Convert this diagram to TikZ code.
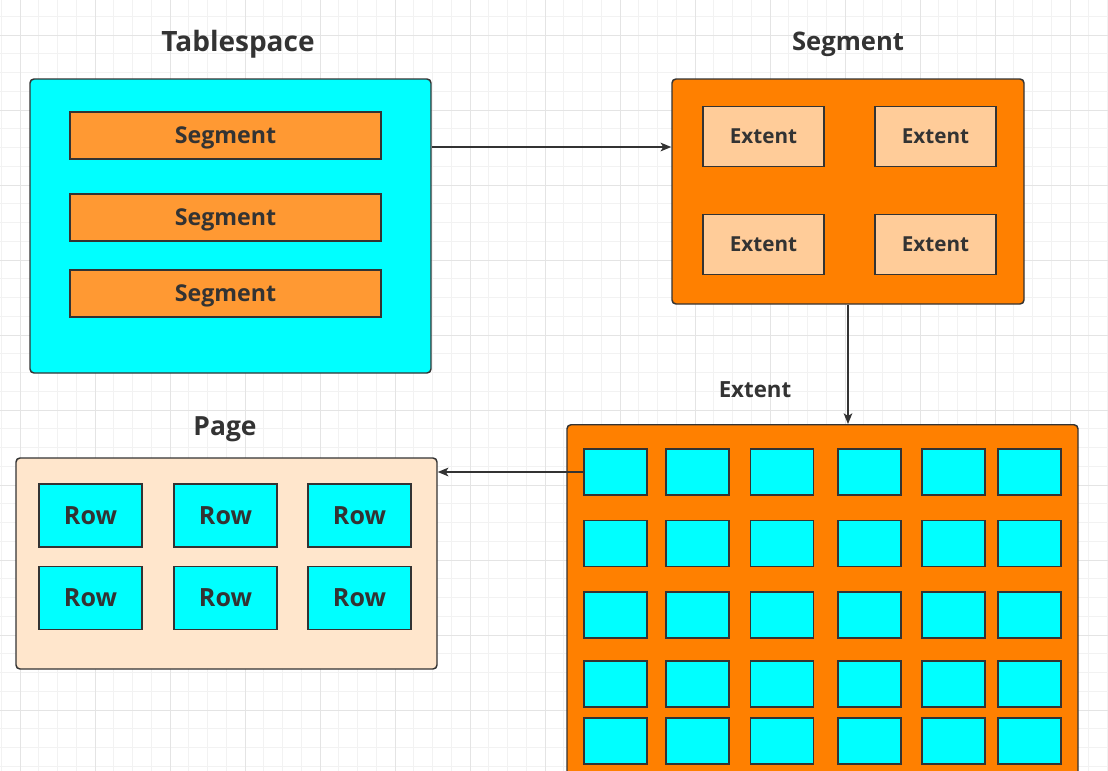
\documentclass[tikz,border=0pt]{standalone}
\usepackage{fontspec}
\setmainfont{Open Sans}
\usetikzlibrary{arrows.meta}
\definecolor{cyanfill}{HTML}{00FFFF}
\definecolor{segfill}{HTML}{FF9933}
\definecolor{bigorange}{HTML}{FF8000}
\definecolor{extfill}{HTML}{FFCC99}
\definecolor{pagefill}{HTML}{FFE6CC}
\definecolor{ink}{HTML}{333333}
\definecolor{gridminor}{HTML}{F2F2F2}
\definecolor{gridmajor}{HTML}{E4E4E4}
\begin{document}
\begin{tikzpicture}[x=0.75pt,y=-0.75pt,
  outerbox/.style={draw=ink,line width=1.1pt,rounded corners=3pt,inner sep=0pt},
  innerbox/.style={draw=ink,line width=1.1pt,inner sep=0pt,text=ink,font=\bfseries},
  title/.style={text=ink,font=\bfseries,inner sep=0pt,text depth=0pt},
  conn/.style={draw=ink,line width=1.1pt,-{Stealth[length=8pt,width=6.5pt,inset=2pt]}}]
\useasboundingbox (0,0) rectangle (1108,771);
\clip (0,0) rectangle (1108,771);
\fill[white] (0,0) rectangle (1108,771);
\foreach \k in {0,...,59} \draw[gridminor,line width=0.6pt] ({1.25+18.75*\k},0) -- ({1.25+18.75*\k},771);
\foreach \k in {0,...,40} \draw[gridminor,line width=0.6pt] (0,{16.25+18.75*\k}) -- (1108,{16.25+18.75*\k});
\foreach \k in {0,...,14} \draw[gridmajor,line width=0.6pt] ({20+75*\k},0) -- ({20+75*\k},771);
\foreach \k in {0,...,10} \draw[gridmajor,line width=0.6pt] (0,{35+75*\k}) -- (1108,{35+75*\k});

% Tablespace
\node[title,font=\fontsize{21}{24}\selectfont\bfseries] (ttab) at (238,41) {Tablespace};
\node[outerbox,fill=cyanfill,minimum width={401*0.75pt},minimum height={294*0.75pt}] (tab) at (230.5,226) {};
\foreach \n/\y in {1/135.5,2/217.5,3/293.5}
  \node[innerbox,fill=segfill,minimum width={311*0.75pt},minimum height={47*0.75pt},text depth=0pt,font=\fontsize{17.4}{20}\selectfont\bfseries] (s\n) at (225.5,\y) {Segment};

% Segment
\node[title,font=\fontsize{19.2}{22}\selectfont\bfseries] (tseg) at (848,41) {Segment};
\node[outerbox,fill=bigorange,minimum width={352*0.75pt},minimum height={225*0.75pt}] (seg) at (848,191.5) {};
\node[innerbox,fill=extfill,minimum width={121*0.75pt},minimum height={60*0.75pt},font=\fontsize{15.5}{18}\selectfont\bfseries] (e1) at (763.5,136.5) {Extent};
\node[innerbox,fill=extfill,minimum width={121*0.75pt},minimum height={60*0.75pt},font=\fontsize{15.5}{18}\selectfont\bfseries] (e2) at (935.5,136.5) {Extent};
\node[innerbox,fill=extfill,minimum width={121*0.75pt},minimum height={60*0.75pt},font=\fontsize{15.5}{18}\selectfont\bfseries] (e3) at (763.5,244.5) {Extent};
\node[innerbox,fill=extfill,minimum width={121*0.75pt},minimum height={60*0.75pt},font=\fontsize{15.5}{18}\selectfont\bfseries] (e4) at (935.5,244.5) {Extent};

% Extent
\node[title,font=\fontsize{16.7}{19}\selectfont\bfseries] (text) at (755,390) {Extent};
\node[outerbox,fill=bigorange,minimum width={511*0.75pt},minimum height={380*0.75pt},anchor=north] (ext) at (822.5,424) {};
\foreach \c/\x in {1/615.5,2/697.5,3/782,4/869.5,5/953.5,6/1029.5}
  \foreach \r/\y in {1/472,2/543.5,3/615,4/684,5/741}
    \node[innerbox,fill=cyanfill,minimum width={63*0.75pt},minimum height={46*0.75pt}] (c\r\c) at (\x,\y) {};

% Page
\node[title,font=\fontsize{19.8}{23}\selectfont\bfseries] (tpage) at (225,426) {Page};
\node[outerbox,fill=pagefill,minimum width={421*0.75pt},minimum height={211*0.75pt}] (page) at (226.5,563.5) {};
\foreach \n/\x/\y in {1/90.5/515.5,2/225.5/515.5,3/359.5/515.5,4/90.5/598,5/225.5/598,6/359.5/598}
  \node[innerbox,fill=cyanfill,minimum width={103*0.75pt},minimum height={63*0.75pt},font=\fontsize{18.8}{22}\selectfont\bfseries] (r\n) at (\x,\y) {Row};

% connectors
\draw[conn] (tab.east |- 0,147) -- (seg.west |- 0,147);
\draw[conn] (seg.south) -- (seg.south |- ext.north);
\draw[conn] (c11.west) -- (page.east |- c11.west);
\end{tikzpicture}
\end{document}
